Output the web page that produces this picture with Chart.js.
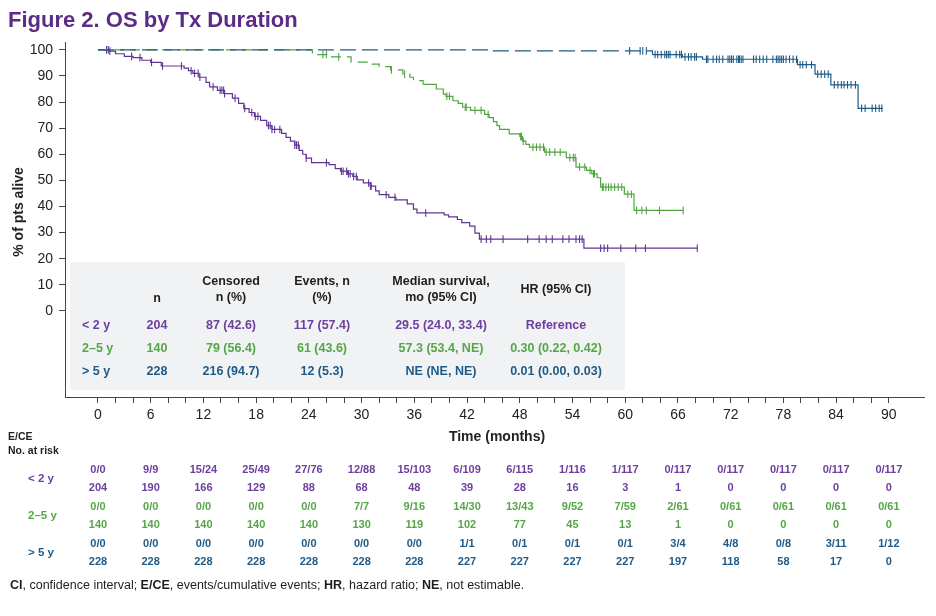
<!DOCTYPE html>
<html><head><meta charset="utf-8">
<script src="https://cdn.jsdelivr.net/npm/chart.js@4.4.1/dist/chart.umd.min.js"></script>
<style>html,body{margin:0;padding:0;background:#fff}#wrap{width:936px;height:616px;position:relative}</style>
</head><body><div id="wrap"><canvas id="c" width="936" height="616"></canvas></div>
<script>
// ---------- DATA ----------
const titleText = 'Figure 2. OS by Tx Duration';
const yAxisTitle = '% of pts alive';
const xAxisTitle = 'Time (months)';
const xTickValues = [0,2,4,6,8,10,12,14,16,18,20,22,24,26,28,30,32,34,36,38,40,42,44,46,48,50,52,54,56,58,60,62,64,66,68,70,72,74,76,78,80,82,84,86,88,90];
const xLabelEvery = 6;
const yTickValues = [0,10,20,30,40,50,60,70,80,90,100];

// KM step points: time (months) and % alive
const lt2Times = [0,1.2,2.0,3.0,4.0,5.0,6.0,7.2,9.8,10.3,10.8,11.5,12.3,12.7,13.6,14.4,15.3,16.0,16.6,17.2,17.8,18.5,19.2,19.8,20.9,21.4,21.9,22.4,22.9,23.3,23.7,24.3,26.3,27.0,27.6,28.4,29.0,29.5,30.2,31.0,31.6,32.0,33.1,33.9,35.2,35.9,36.3,39.4,39.9,40.9,41.4,42.3,42.9,43.4,55.3,68.2];
const lt2Surv  = [100,99.5,98.5,97.5,97.0,96.0,95.2,93.8,93.0,92.0,91.0,89.5,87.5,85.8,84.5,83.2,81.5,79.5,77.5,76.0,74.5,73.0,71.0,69.5,68.0,66.5,65.0,63.5,61.5,60.0,58.5,56.8,56.0,54.5,53.5,52.5,51.5,50.2,49.0,47.8,46.0,44.5,43.5,42.5,41.0,39.0,37.5,36.8,36.0,35.0,33.8,32.5,29.8,27.5,24.0,24.0];
const lt2Censor = [0.98,1.18,1.36,3.83,4.78,6.1,7.35,9.5,10.6,11.0,11.4,11.6,13.1,13.9,14.1,14.3,14.4,15.6,16.7,17.5,17.9,18.2,19.4,19.6,19.8,20.1,20.7,22.4,22.6,22.8,23.7,26.0,27.7,27.9,28.3,28.5,28.7,29.1,29.4,30.8,31.0,31.1,32.8,33.8,37.3,43.6,44.2,44.7,46.1,48.9,50.2,51.0,51.7,52.9,53.6,54.4,54.8,55.1,57.2,57.6,58.0,59.5,61.2,62.3,68.2];

const midTimes = [0,24.4,26.5,28.8,30.8,32.0,33.3,34.7,35.5,35.9,37.0,38.5,39.3,39.6,40.4,41.0,41.5,42.4,44.0,44.5,45.0,45.4,45.7,46.8,48.0,48.3,48.7,49.1,50.8,53.3,54.4,55.6,56.2,56.8,57.2,59.9,61.0,66.6];
const midSurv  = [100,98.2,97.3,95.3,94.5,93.6,92.3,90.7,89.5,88.2,86.8,85.0,83.0,82.2,80.5,79.5,78.0,76.8,75.3,74.0,72.5,71.0,69.5,67.8,66.8,65.0,63.8,62.7,60.8,58.7,55.1,53.8,52.5,51.0,47.4,44.7,38.5,38.5];
const midCensor = [25.6,26.0,27.4,33.4,34.9,39.7,40.0,41.8,41.9,42.9,43.6,44.4,48.1,48.2,48.4,49.5,49.9,50.3,50.7,51.0,51.4,52.0,52.6,53.7,54.1,54.3,54.8,55.4,56.0,56.4,56.5,57.4,57.5,57.8,58.1,58.4,58.8,59.2,59.6,60.3,60.7,61.3,61.9,62.4,63.9,66.6];

const gt5Times = [0,44.5,63.1,66.5,68.8,79.6,81.6,83.4,86.5,89.3];
const gt5Surv  = [100,99.6,98.2,97.3,96.4,94.3,90.7,86.6,77.6,77.6];
const gt5Censor = [60.5,61.7,62.0,62.4,63.4,63.7,64.1,64.5,64.7,64.9,65.1,65.8,66.2,66.4,66.8,67.2,67.5,67.9,68.1,69.25,69.4,70.0,70.4,70.7,71.1,71.7,71.9,72.1,72.3,72.7,72.9,73.0,73.2,73.4,74.6,74.9,75.3,75.7,76.1,76.8,77.2,77.4,77.6,77.8,78.0,78.3,78.7,79.1,79.5,79.9,80.2,80.6,81.2,81.9,82.3,82.7,83.1,83.8,84.2,84.6,84.9,85.3,85.7,86.2,86.9,87.3,88.1,88.5,88.9,89.2];

// Summary table
const summaryGroups = ['< 2 y','2\u20135 y','> 5 y'];
const summaryN = ['204','140','228'];
const summaryCensored = ['87 (42.6)','79 (56.4)','216 (94.7)'];
const summaryEvents = ['117 (57.4)','61 (43.6)','12 (5.3)'];
const summaryMedian = ['29.5 (24.0, 33.4)','57.3 (53.4, NE)','NE (NE, NE)'];
const summaryHR = ['Reference','0.30 (0.22, 0.42)','0.01 (0.00, 0.03)'];

// At-risk table
const atRiskTimes = [0,6,12,18,24,30,36,42,48,54,60,66,72,78,84,90];
const lt2ECE  = ['0/0','9/9','15/24','25/49','27/76','12/88','15/103','6/109','6/115','1/116','1/117','0/117','0/117','0/117','0/117','0/117'];
const lt2Risk = ['204','190','166','129','88','68','48','39','28','16','3','1','0','0','0','0'];
const midECE  = ['0/0','0/0','0/0','0/0','0/0','7/7','9/16','14/30','13/43','9/52','7/59','2/61','0/61','0/61','0/61','0/61'];
const midRisk = ['140','140','140','140','140','130','119','102','77','45','13','1','0','0','0','0'];
const gt5ECE  = ['0/0','0/0','0/0','0/0','0/0','0/0','0/0','1/1','0/1','0/1','0/1','3/4','4/8','0/8','3/11','1/12'];
const gt5Risk = ['228','228','228','228','228','228','228','227','227','227','227','197','118','58','17','0'];

const footerParts = [['CI',true],[', confidence interval; ',false],['E/CE',true],[', events/cumulative events; ',false],['HR',true],[', hazard ratio; ',false],['NE',true],[', not estimable.',false]];

// ---------- STYLE ----------
const FONT = '"Liberation Sans", Arial, Helvetica, sans-serif';
const PURPLE = '#5f3594', PURPLE_T = '#6c3f9e';
const GREEN = '#52a443', GREEN_T = '#56a648';
const BLUE = '#1d5b86', BLUE_T = '#1f5b88';
const TITLE_C = '#5b2c85';

function survAt(times, surv, t) {
  let v = surv[0];
  for (let i = 0; i < times.length; i++) { if (times[i] <= t) v = surv[i]; else break; }
  return v;
}
const pts = (ts, ss) => ts.map((t, i) => ({x: t, y: ss[i]}));
const cens = (cs, ts, ss) => cs.map(t => ({x: t, y: survAt(ts, ss, t)}));

function kmLine(label, ts, ss, color, dashUntil, dash) {
  return {label, data: pts(ts, ss), borderColor: color, borderWidth: 1.2, pointRadius: 0,
    stepped: 'before', fill: false, tension: 0,
    segment: {borderDash: c => (c.p0.parsed.x < dashUntil ? dash : undefined)}};
}
function censorSet(label, cs, ts, ss, color) {
  return {label, data: cens(cs, ts, ss), showLine: false, pointStyle: 'line', rotation: 90,
    pointRadius: 3.8, pointBorderWidth: 1.1, borderColor: color, backgroundColor: color, pointHoverRadius: 3.8};
}

const decor = {
  id: 'decor',
  beforeDatasetsDraw(chart) {
    const c = chart.ctx;
    c.save();
    c.fillStyle = '#f1f2f3';
    c.fillRect(70, 262, 555, 128);
    c.restore();
  },
  afterDraw(chart) {
    const c = chart.ctx;
    const xs = chart.scales.x;
    c.save();
    // title
    c.fillStyle = TITLE_C; c.font = 'bold 22px ' + FONT; c.textBaseline = 'alphabetic'; c.textAlign = 'left';
    c.fillText(titleText, 8, 27);
    // y title
    c.save(); c.translate(19, 212); c.rotate(-Math.PI / 2);
    c.fillStyle = '#222'; c.font = 'bold 14px ' + FONT; c.textAlign = 'center'; c.textBaseline = 'middle';
    c.fillText(yAxisTitle, 0, 0); c.restore();
    // x title
    c.fillStyle = '#222'; c.font = 'bold 14px ' + FONT; c.textAlign = 'center'; c.textBaseline = 'middle';
    c.fillText(xAxisTitle, 497, 437);
    // summary table
    c.font = 'bold 12.5px ' + FONT; c.fillStyle = '#1e1e1e';
    const cols = [157, 231, 322, 441, 556];
    c.fillText('n', cols[0], 299);
    c.fillText('Censored', cols[1], 282); c.fillText('n (%)', cols[1], 298);
    c.fillText('Events, n', cols[2], 282); c.fillText('(%)', cols[2], 298);
    c.fillText('Median survival,', cols[3], 282); c.fillText('mo (95% CI)', cols[3], 298);
    c.fillText('HR (95% CI)', cols[4], 290);
    const rowY = [326, 349, 372];
    const rowC = [PURPLE_T, GREEN_T, BLUE_T];
    for (let r = 0; r < 3; r++) {
      c.fillStyle = rowC[r];
      c.textAlign = 'left'; c.fillText(summaryGroups[r], 82, rowY[r]);
      c.textAlign = 'center';
      c.fillText(summaryN[r], cols[0], rowY[r]);
      c.fillText(summaryCensored[r], cols[1], rowY[r]);
      c.fillText(summaryEvents[r], cols[2], rowY[r]);
      c.fillText(summaryMedian[r], cols[3], rowY[r]);
      c.fillText(summaryHR[r], cols[4], rowY[r]);
    }
    // at-risk header
    c.fillStyle = '#222'; c.font = 'bold 10.5px ' + FONT; c.textAlign = 'left';
    c.fillText('E/CE', 8, 437); c.fillText('No. at risk', 8, 451);
    const groups = [[lt2ECE, lt2Risk, PURPLE_T, 470, 488], [midECE, midRisk, GREEN_T, 507, 525], [gt5ECE, gt5Risk, BLUE_T, 544, 562]];
    groups.forEach((g, gi) => {
      c.fillStyle = g[2]; c.font = 'bold 11.5px ' + FONT; c.textAlign = 'left';
      c.fillText(summaryGroups[gi], 28, (g[3] + g[4]) / 2);
      c.font = 'bold 11px ' + FONT; c.textAlign = 'center';
      atRiskTimes.forEach((t, i) => {
        const px = xs.getPixelForValue(t);
        c.fillText(g[0][i], px, g[3]);
        c.fillText(g[1][i], px, g[4]);
      });
    });
    // footer
    let fx = 10; c.textAlign = 'left'; c.fillStyle = '#1e1e1e';
    footerParts.forEach(([txt, b]) => {
      c.font = (b ? 'bold ' : '') + '12.5px ' + FONT;
      c.fillText(txt, fx, 586);
      fx += c.measureText(txt).width;
    });
    c.restore();
  }
};

new Chart(document.getElementById('c'), {
  type: 'line',
  data: {datasets: [
    kmLine('> 5 y', gt5Times, gt5Surv, BLUE, 60, [16, 6]),
    kmLine('2\u20135 y', midTimes, midSurv, GREEN, 36, [10, 6]),
    kmLine('< 2 y', lt2Times, lt2Surv, PURPLE, -1, undefined),
    censorSet('> 5 y censored', gt5Censor, gt5Times, gt5Surv, BLUE),
    censorSet('2\u20135 y censored', midCensor, midTimes, midSurv, GREEN),
    censorSet('< 2 y censored', lt2Censor, lt2Times, lt2Surv, PURPLE)
  ]},
  options: {
    responsive: false, animation: false, devicePixelRatio: 1,
    layout: {padding: {top: 42, right: 12, left: 0, bottom: 0}},
    plugins: {legend: {display: false}, tooltip: {enabled: false}, title: {display: false}},
    scales: {
      x: {type: 'linear', min: -3.75, max: 94,
        afterBuildTicks: s => { s.ticks = xTickValues.map(v => ({value: v})); },
        afterFit: s => { s.height = 219; },
        ticks: {autoSkip: false, maxRotation: 0, padding: 4, color: '#222', font: {size: 14, family: FONT},
          callback: v => (v % xLabelEvery === 0 ? String(v) : '')},
        grid: {drawOnChartArea: false, drawTicks: true, tickLength: 6, color: '#444'},
        border: {display: true, color: '#444', width: 1}},
      y: {type: 'linear', min: -33, max: 103,
        afterBuildTicks: s => { s.ticks = yTickValues.map(v => ({value: v})); },
        afterFit: s => { s.width = 65; },
        ticks: {padding: 6, color: '#222', font: {size: 14, family: FONT}, callback: v => String(v)},
        grid: {drawOnChartArea: false, drawTicks: true, tickLength: 6, color: '#444'},
        border: {display: true, color: '#444', width: 1}}
    }
  },
  plugins: [decor]
});
</script></body></html>
